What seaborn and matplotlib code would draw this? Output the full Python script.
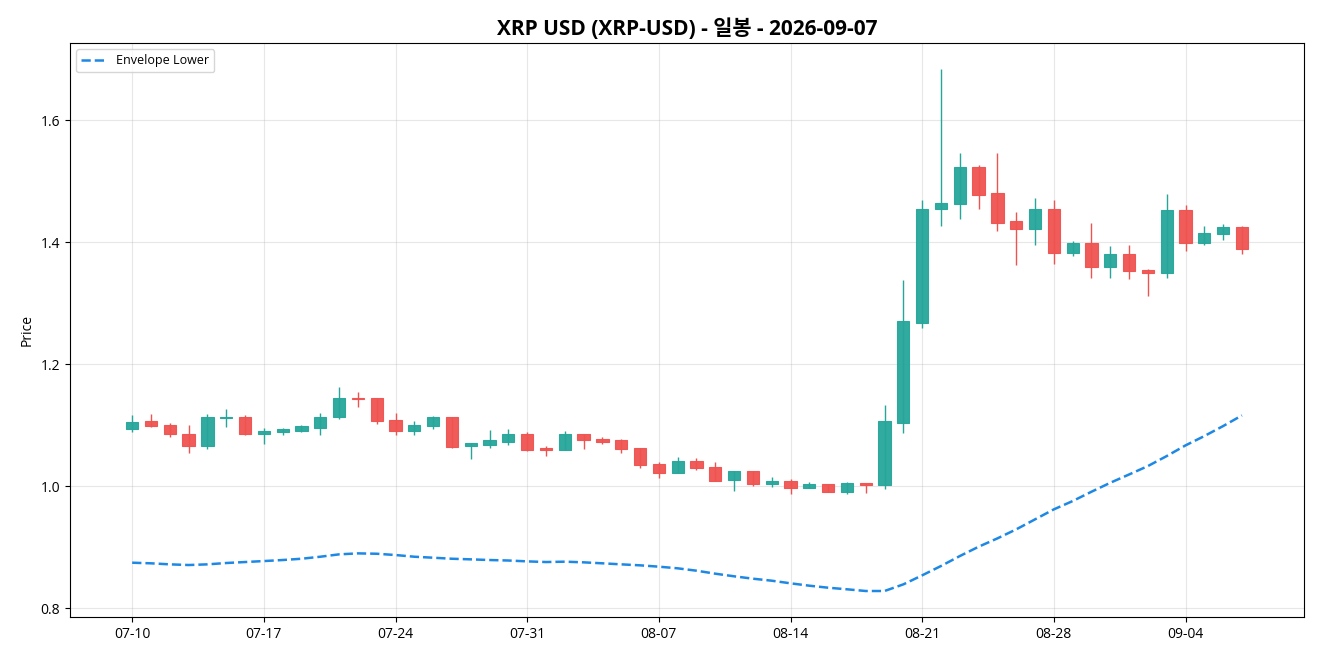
import pandas as pd
import seaborn as sns
import matplotlib
matplotlib.use("Agg")
import matplotlib.pyplot as plt
import matplotlib.dates as mdates

# daily OHLC
dates = pd.date_range("2026-07-10", "2026-09-07", freq="D")

opens = [1.093, 1.106, 1.0995, 1.086, 1.065, 1.111, 1.114, 1.086, 1.088, 1.091,
         1.096, 1.113, 1.144, 1.144, 1.108, 1.091, 1.098, 1.113, 1.065, 1.068,
         1.073, 1.085, 1.062, 1.0595, 1.086, 1.077, 1.075, 1.062, 1.036, 1.021,
         1.0405, 1.031, 1.010, 1.024, 1.004, 1.009, 0.997, 1.003, 0.991, 1.005,
         1.001, 1.104, 1.268, 1.454, 1.463, 1.524, 1.480, 1.434, 1.422, 1.454,
         1.383, 1.398, 1.3585, 1.380, 1.3536, 1.350, 1.452, 1.398, 1.4126, 1.4241]
highs = [1.116, 1.118, 1.103, 1.100, 1.118, 1.127, 1.116, 1.095, 1.096, 1.100,
         1.120, 1.162, 1.155, 1.145, 1.120, 1.107, 1.115, 1.114, 1.070, 1.092,
         1.093, 1.0885, 1.065, 1.090, 1.086, 1.080, 1.077, 1.063, 1.039, 1.0475,
         1.046, 1.039, 1.024, 1.024, 1.015, 1.011, 1.007, 1.003, 1.007, 1.005,
         1.133, 1.338, 1.469, 1.684, 1.546, 1.526, 1.546, 1.449, 1.472, 1.469,
         1.402, 1.431, 1.393, 1.3946, 1.3557, 1.479, 1.461, 1.426, 1.4295, 1.4262]
lows = [1.089, 1.097, 1.081, 1.055, 1.060, 1.097, 1.084, 1.069, 1.083, 1.089,
        1.083, 1.110, 1.129, 1.102, 1.084, 1.084, 1.094, 1.063, 1.045, 1.063,
        1.068, 1.058, 1.049, 1.0595, 1.061, 1.069, 1.055, 1.030, 1.014, 1.021,
        1.027, 1.008, 0.992, 1.000, 0.998, 0.987, 0.997, 0.991, 0.987, 0.989,
        0.996, 1.087, 1.260, 1.427, 1.438, 1.455, 1.4185, 1.363, 1.396, 1.364,
        1.3775, 1.3415, 1.3415, 1.340, 1.312, 1.3415, 1.386, 1.3956, 1.4038, 1.381]
closes = [1.105, 1.098, 1.085, 1.065, 1.113, 1.114, 1.086, 1.090, 1.093, 1.098,
          1.114, 1.144, 1.142, 1.106, 1.091, 1.0995, 1.113, 1.064, 1.070, 1.075,
          1.085, 1.0595, 1.0595, 1.086, 1.075, 1.073, 1.060, 1.034, 1.021, 1.0405,
          1.029, 1.009, 1.024, 1.004, 1.009, 0.997, 1.003, 0.991, 1.005, 1.001,
          1.106, 1.270, 1.455, 1.465, 1.524, 1.478, 1.432, 1.422, 1.454, 1.3825,
          1.398, 1.3585, 1.380, 1.352, 1.350, 1.452, 1.398, 1.4143, 1.4241, 1.388]
envelope_lower = [0.8743, 0.8733, 0.8716, 0.8705, 0.8716, 0.8738, 0.8754, 0.877, 0.8787, 0.8808,
                  0.8841, 0.888, 0.8896, 0.889, 0.8869, 0.8841, 0.8825, 0.8808, 0.8798, 0.8787,
                  0.8779, 0.8765, 0.8754, 0.876, 0.8749, 0.8733, 0.8716, 0.870, 0.8678, 0.8651,
                  0.8612, 0.8563, 0.852, 0.8481, 0.8448, 0.8405, 0.8366, 0.8333, 0.8307, 0.8279,
                  0.8279, 0.8388, 0.8536, 0.8689, 0.8852, 0.9005, 0.9142, 0.929, 0.9454, 0.9618,
                  0.9754, 0.9907, 1.0054, 1.019, 1.0328, 1.0492, 1.0667, 1.082, 1.0984, 1.1159]

df = pd.DataFrame({"date": dates, "open": opens, "high": highs, "low": lows,
                   "close": closes, "env": envelope_lower})

sns.set_style("ticks")
plt.rcParams['font.family'] = ['Open Sans', 'Noto Sans CJK KR', 'DejaVu Sans']
plt.rcParams['axes.unicode_minus'] = False
plt.rcParams['text.color'] = 'black'
plt.rcParams['axes.labelcolor'] = 'black'

up_color = "#26a69a"
down_color = "#ef5350"

fig, ax = plt.subplots(figsize=(13.2, 6.6), dpi=100)
fig.subplots_adjust(left=0.053, right=0.988, top=0.935, bottom=0.065)

colors = [up_color if c >= o else down_color for o, c in zip(df["open"], df["close"])]
body_low = df[["open", "close"]].min(axis=1)
body_h = (df["close"] - df["open"]).abs().clip(lower=0.0015)

ax.vlines(df["date"], df["low"], df["high"], colors=colors, linewidth=1, zorder=2)
ax.bar(df["date"], body_h, bottom=body_low, width=0.65, color=colors,
       edgecolor=colors, linewidth=0.8, alpha=0.95, zorder=3)

sns.lineplot(data=df, x="date", y="env", ax=ax, color="#1e88e5", linestyle="--",
             linewidth=1.8, label="Envelope Lower", zorder=4)

ax.set_title("XRP USD (XRP-USD) - 일봉 - 2026-09-07", fontsize=15, fontweight="bold",
             color="black")
ax.set_ylabel("Price", fontsize=10)
ax.set_xlabel("")
ax.set_xticks(df["date"][::7])
ax.xaxis.set_major_formatter(mdates.DateFormatter("%m-%d"))
ax.set_yticks([0.8, 1.0, 1.2, 1.4, 1.6])
ax.tick_params(labelsize=10, colors="black")
ax.grid(True, color="#b0b0b0", alpha=0.3)
for s in ax.spines.values():
    s.set_visible(True)
    s.set_color("black")
ax.legend(loc="upper left", fontsize=9)

plt.savefig("out.png", dpi=100)
